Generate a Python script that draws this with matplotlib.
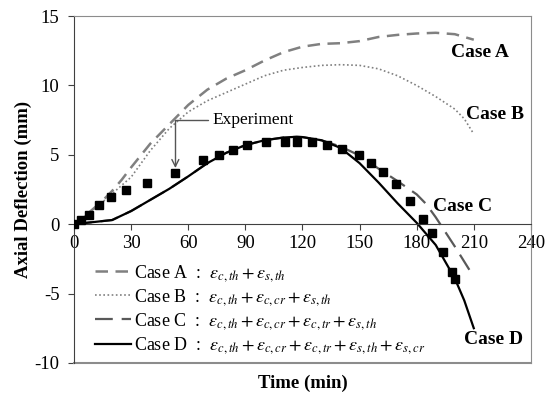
import matplotlib
matplotlib.use("Agg")
import matplotlib.pyplot as plt

plt.rcParams['font.family'] = ['Liberation Serif', 'DejaVu Serif']
plt.rcParams['mathtext.fontset'] = 'stix'
plt.rcParams['axes.unicode_minus'] = False

# experiment points
t_exp = [0, 3.5, 7.9, 13.3, 19.3, 27.3, 38.2, 53.2, 67.8, 76, 83.3, 91, 100.7, 110.8,
         117.3, 124.8, 132.9, 140.6, 149.9, 155.8, 162.1, 169.1, 176.5, 183.1, 188,
         194, 198.4, 200.3]
y_exp = [0, 0.27, 0.65, 1.38, 1.98, 2.49, 2.95, 3.67, 4.64, 5.0, 5.38, 5.72, 5.89, 5.96,
         5.96, 5.89, 5.7, 5.41, 4.98, 4.4, 3.77, 2.9, 1.67, 0.38, -0.63,
         -2.03, -3.46, -3.96]

# Case A
t_a = [0, 5, 10, 15, 20, 25, 30, 40, 50, 60, 70, 80, 90, 100, 110, 120, 130, 140, 150,
       160, 170, 180, 190, 200, 210]
y_a = [0, 0.5, 1.1, 1.7, 2.4, 3.2, 4.1, 5.8, 7.2, 8.6, 9.7, 10.5, 11.1, 11.8, 12.4, 12.8,
       13.0, 13.05, 13.2, 13.5, 13.65, 13.75, 13.8, 13.7, 13.3]

# Case B
t_b = [0, 10, 20, 30, 40, 50, 60, 70, 80, 90, 100, 110, 120, 130, 140, 150, 160, 170,
       180, 190, 200, 205, 210]
y_b = [0, 1.0, 2.2, 3.4, 5.3, 6.9, 8.1, 8.9, 9.5, 10.1, 10.7, 11.1, 11.3, 11.45, 11.5,
       11.45, 11.2, 10.7, 10.0, 9.2, 8.3, 7.6, 6.5]

# Case C
t_c = [0, 20, 30, 40, 50, 60, 70, 80, 90, 100, 110, 117, 120, 130, 140, 150, 160, 170,
       180, 185, 190, 200, 210]
y_c = [0, 0.3, 0.95, 1.75, 2.55, 3.45, 4.4, 5.15, 5.7, 6.05, 6.25, 6.3, 6.28, 6.05, 5.6,
       4.95, 4.0, 3.1, 2.15, 1.45, 0.5, -1.6, -3.8]

# Case D
t_d = [0, 20, 30, 40, 50, 60, 70, 80, 90, 100, 110, 117, 120, 130, 140, 150, 160, 170,
       180, 190, 200, 205, 210]
y_d = [0, 0.3, 0.95, 1.75, 2.55, 3.45, 4.4, 5.15, 5.7, 6.05, 6.25, 6.3, 6.28, 6.05, 5.5,
       4.4, 3.0, 1.5, 0.1, -1.5, -3.9, -5.5, -7.5]

labels = [r'Case A  :  $\varepsilon_{c,th}+\varepsilon_{s,th}$',
          r'Case B  :  $\varepsilon_{c,th}+\varepsilon_{c,cr}+\varepsilon_{s,th}$',
          r'Case C  :  $\varepsilon_{c,th}+\varepsilon_{c,cr}+\varepsilon_{c,tr}+\varepsilon_{s,th}$',
          r'Case D  :  $\varepsilon_{c,th}+\varepsilon_{c,cr}+\varepsilon_{c,tr}+\varepsilon_{s,th}+\varepsilon_{s,cr}$']

fig = plt.figure(figsize=(5.53, 3.94), dpi=100)
ax = fig.add_axes([0.134, 0.079, 0.826, 0.880])

la, = ax.plot(t_a, y_a, color='#808080', lw=1.8, dashes=(5, 3))
lb, = ax.plot(t_b, y_b, color='#808080', lw=1.2, linestyle=(0, (1, 1.5)))
lc, = ax.plot(t_c, y_c, color='#595959', lw=1.6, dashes=(8, 4))
ld, = ax.plot(t_d, y_d, color='black', lw=1.6)
ax.plot(t_exp, y_exp, 's', color='black', markersize=5.5, zorder=5)

ax.annotate('Experiment', xy=(t_exp[7], 4.05), xytext=(72.5, 7.5), ha='left', va='center',
            fontsize=12.5,
            arrowprops=dict(arrowstyle='->', color='#555555', lw=1,
                            connectionstyle='angle,angleA=0,angleB=90,rad=0',
                            shrinkA=1, shrinkB=0))

ax.text(198, 12.4, 'Case A', fontsize=14, fontweight='bold', ha='left', va='center')
ax.text(206, 7.9, 'Case B', fontsize=14, fontweight='bold', ha='left', va='center')
ax.text(188.5, 1.3, 'Case C', fontsize=14, fontweight='bold', ha='left', va='center')
ax.text(205, -8.3, 'Case D', fontsize=14, fontweight='bold', ha='left', va='center')

ax.legend([la, lb, lc, ld], labels, loc='upper left', bbox_to_anchor=(0.03, 0.31),
          frameon=False, fontsize=13, handlelength=2.0, handletextpad=0.15,
          labelspacing=0.18, borderaxespad=0)

ax.set_xlim(0, 240)
ax.set_ylim(-10, 15)
ax.set_xticks(range(0, 241, 30))
ax.set_yticks(range(-10, 16, 5))
ax.spines['bottom'].set_position(('data', 0))
ax.spines['bottom'].set_color('#404040')
ax.spines['left'].set_color('#404040')
ax.spines['top'].set_color('#8c8c8c')
ax.spines['right'].set_color('#8c8c8c')
ax.axhline(-10, color='#8c8c8c', lw=1.5, clip_on=False)
ax.tick_params(axis='both', direction='out', length=4.5, labelsize=13.5, color='#404040')
ax.tick_params(axis='y', pad=6)

ax.set_ylabel('Axial Deflection (mm)', fontsize=13.5, fontweight='bold')
ax.yaxis.set_label_coords(-0.092, 0.5)
ax.set_xlabel('Time (min)', fontsize=13.5, fontweight='bold')
ax.xaxis.set_label_coords(0.5, -0.035)

fig.savefig('out.png', dpi=100)
